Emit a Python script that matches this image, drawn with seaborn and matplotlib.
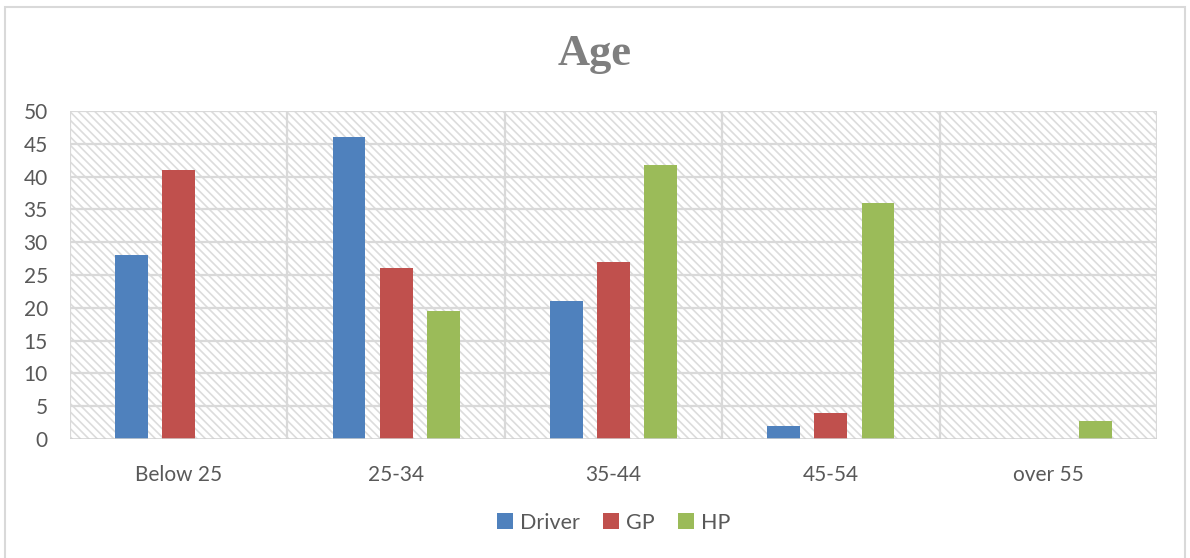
import matplotlib
matplotlib.use("Agg")
import matplotlib.pyplot as plt
from matplotlib.patches import Rectangle
import seaborn as sns
import pandas as pd

categories = ["Below 25", "25-34", "35-44", "45-54", "over 55"]
series = ["Driver", "GP", "HP"]
driver = [28, 46, 21, 2, 0]
gp = [41, 26, 27, 4, 0]
hp = [0, 19.5, 41.7, 36, 2.7]
y_ticks = [0, 5, 10, 15, 20, 25, 30, 35, 40, 45, 50]
title = "Age"

colors = ["#4f81bd", "#c0504d", "#9bbb59"]
grid_color = "#d9d9d9"
text_color = "#595959"

df = pd.DataFrame({
    "Age": categories * 3,
    "Group": [s for s in series for _ in categories],
    "Value": driver + gp + hp,
})

sns.set_theme(style="white")
plt.rcParams["font.family"] = ["Lato", "DejaVu Sans"]
plt.rcParams["hatch.color"] = "#dcdcdc"
plt.rcParams["hatch.linewidth"] = 1.2

fig = plt.figure(figsize=(11.9, 5.58), dpi=100)
ax = fig.add_axes([70 / 1190, (558 - 439) / 558, (1157 - 70) / 1190, (439 - 111) / 558])

# hatched plot area background
ax.add_patch(Rectangle((0, 0), 1, 1, transform=ax.transAxes, facecolor="white",
                       edgecolor="#dcdcdc", hatch="\\\\\\\\", linewidth=0, zorder=0))

sns.barplot(data=df, x="Age", y="Value", hue="Group", palette=colors,
            width=0.65, gap=0.3, order=categories, hue_order=series,
            ax=ax, zorder=3, linewidth=0, saturation=1, legend=True)

ax.set_ylim(0, 50)
ax.set_xlim(-0.5, len(categories) - 0.5)
ax.set_yticks(y_ticks)
ax.set_yticklabels([str(t) for t in y_ticks])
ax.set_xlabel("")
ax.set_ylabel("")

# horizontal gridlines and category separators
for t in y_ticks[1:]:
    ax.axhline(t, color=grid_color, linewidth=1.6, zorder=1)
for i in range(len(categories) + 1):
    ax.axvline(i - 0.5, color=grid_color, linewidth=1.6, zorder=1)
ax.axhline(0, color="#d0d0d0", linewidth=1.8, zorder=4)

for s in ax.spines.values():
    s.set_visible(False)
ax.tick_params(axis="both", length=0, labelsize=15, colors=text_color)
ax.tick_params(axis="x", pad=19)
ax.tick_params(axis="y", pad=16)

leg = ax.legend(loc="center", bbox_to_anchor=(0.5, -0.255), ncol=3, frameon=False,
                fontsize=15.5, handlelength=0.75, handleheight=0.75, handletextpad=0.3,
                columnspacing=1.1, labelcolor=text_color)

fig.text(0.5, (558 - 54) / 558, title, ha="center", va="center", fontsize=32,
         fontweight="bold", color="#7f7f7f", family=["Liberation Serif", "DejaVu Serif"])

# outer chart frame
fig.patches.append(Rectangle((5 / 1190, -0.01), 1180 / 1190, (558 - 7) / 558 + 0.01,
                             transform=fig.transFigure, fill=False,
                             edgecolor="#d9d9d9", linewidth=1.5))

fig.savefig("out.png", dpi=100)
